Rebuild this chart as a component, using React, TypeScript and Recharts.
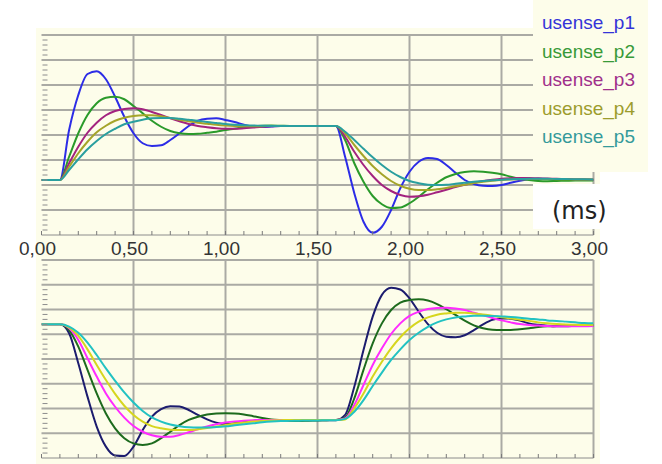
import React from 'react';
import { LineChart, Line, XAxis, YAxis, ReferenceLine, Legend } from 'recharts';

// ---- data -------------------------------------------------------------
const TIME_MS = [
  0, 0.05, 0.1, 0.15, 0.2, 0.25, 0.3, 0.35, 0.4, 0.45, 0.5, 0.55, 0.6, 0.65, 0.7, 0.75,
  0.8, 0.85, 0.9, 0.95, 1, 1.05, 1.1, 1.15, 1.2, 1.25, 1.3, 1.35, 1.4, 1.45, 1.5, 1.55,
  1.6, 1.65, 1.7, 1.75, 1.8, 1.85, 1.9, 1.95, 2, 2.05, 2.1, 2.15, 2.2, 2.25, 2.3, 2.35,
  2.4, 2.45, 2.5, 2.55, 2.6, 2.65, 2.7, 2.75, 2.8, 2.85, 2.9, 2.95, 3,
];

const SERIES_NAMES = ['usense_p1', 'usense_p2', 'usense_p3', 'usense_p4', 'usense_p5'];

// upper panel
const TOP_P1 = [
  2.2, 2.2, 2.2, 4.2, 5.6, 6.44, 6.55, 6.23, 5.53, 4.73, 4.07, 3.67, 3.56, 3.59, 3.8, 4.07,
  4.36, 4.57, 4.65, 4.67, 4.6, 4.52, 4.41, 4.33, 4.32, 4.34, 4.36, 4.36, 4.36, 4.36, 4.36, 4.36,
  4.36, 3.13, 1.67, 0.53, 0.09, 0.33, 1.0, 1.87, 2.53, 2.93, 3.08, 3.04, 2.8, 2.49, 2.2, 2.04,
  1.97, 1.96, 2.0, 2.09, 2.17, 2.23, 2.25, 2.24, 2.22, 2.2, 2.2, 2.2, 2.2,
];
const TOP_P2 = [
  2.2, 2.2, 2.2, 3.13, 4.07, 4.8, 5.27, 5.49, 5.53, 5.43, 5.16, 4.87, 4.57, 4.33, 4.16, 4.07,
  4.04, 4.05, 4.09, 4.13, 4.2, 4.25, 4.31, 4.35, 4.37, 4.38, 4.37, 4.36, 4.36, 4.36, 4.36, 4.36,
  4.36, 3.8, 2.87, 2.13, 1.56, 1.23, 1.08, 1.1, 1.27, 1.53, 1.83, 2.09, 2.31, 2.44, 2.52, 2.55,
  2.53, 2.49, 2.43, 2.33, 2.25, 2.2, 2.16, 2.15, 2.16, 2.17, 2.18, 2.18, 2.18,
];
const TOP_P3 = [
  2.2, 2.2, 2.2, 2.87, 3.53, 4.09, 4.49, 4.79, 4.96, 5.04, 5.07, 5.03, 4.92, 4.8, 4.67, 4.55,
  4.44, 4.36, 4.31, 4.27, 4.25, 4.25, 4.27, 4.3, 4.33, 4.35, 4.36, 4.36, 4.36, 4.36, 4.36, 4.36,
  4.36, 3.93, 3.33, 2.8, 2.36, 2.0, 1.76, 1.6, 1.53, 1.55, 1.61, 1.71, 1.81, 1.92, 2.01, 2.09,
  2.16, 2.21, 2.25, 2.27, 2.28, 2.28, 2.27, 2.26, 2.25, 2.24, 2.23, 2.23, 2.22,
];
const TOP_P4 = [
  2.2, 2.2, 2.2, 2.73, 3.27, 3.73, 4.11, 4.37, 4.57, 4.69, 4.76, 4.79, 4.79, 4.75, 4.68, 4.61,
  4.55, 4.49, 4.45, 4.41, 4.38, 4.36, 4.35, 4.35, 4.35, 4.36, 4.36, 4.36, 4.36, 4.36, 4.36, 4.36,
  4.36, 4.07, 3.6, 3.16, 2.76, 2.43, 2.16, 1.97, 1.85, 1.8, 1.8, 1.83, 1.88, 1.95, 2.01, 2.08,
  2.13, 2.17, 2.2, 2.22, 2.23, 2.24, 2.24, 2.24, 2.23, 2.23, 2.22, 2.22, 2.22,
];
const TOP_P5 = [
  2.2, 2.2, 2.2, 2.6, 3.03, 3.43, 3.76, 4.04, 4.25, 4.43, 4.53, 4.61, 4.67, 4.68, 4.68, 4.65,
  4.61, 4.57, 4.52, 4.48, 4.44, 4.41, 4.39, 4.38, 4.37, 4.36, 4.36, 4.36, 4.36, 4.36, 4.36, 4.36,
  4.36, 4.13, 3.8, 3.45, 3.11, 2.8, 2.53, 2.32, 2.16, 2.07, 2.01, 2.0, 2.01, 2.05, 2.09, 2.13,
  2.16, 2.19, 2.21, 2.23, 2.24, 2.25, 2.25, 2.25, 2.24, 2.24, 2.23, 2.23, 2.22,
];

// lower panel
const BOT_P1 = [
  5.4, 5.4, 5.4, 5.04, 3.83, 2.48, 1.27, 0.46, 0.1, 0.08, 0.46, 1.13, 1.67, 1.97, 2.09, 2.08,
  1.94, 1.74, 1.56, 1.43, 1.37, 1.4, 1.45, 1.5, 1.53, 1.53, 1.53, 1.53, 1.53, 1.53, 1.53, 1.53,
  1.53, 1.74, 2.88, 4.36, 5.71, 6.59, 6.88, 6.81, 6.45, 5.91, 5.41, 5.06, 4.9, 4.88, 4.96, 5.17,
  5.4, 5.58, 5.64, 5.63, 5.55, 5.44, 5.38, 5.34, 5.32, 5.32, 5.34, 5.35, 5.36,
];
const BOT_P2 = [
  5.4, 5.4, 5.4, 5.17, 4.5, 3.56, 2.61, 1.8, 1.2, 0.8, 0.59, 0.53, 0.59, 0.8, 1.06, 1.33,
  1.54, 1.67, 1.76, 1.8, 1.81, 1.8, 1.76, 1.69, 1.62, 1.56, 1.53, 1.51, 1.5, 1.51, 1.52, 1.53,
  1.54, 1.63, 2.41, 3.56, 4.63, 5.44, 5.98, 6.28, 6.38, 6.41, 6.36, 6.22, 6.01, 5.78, 5.55, 5.36,
  5.24, 5.18, 5.17, 5.17, 5.2, 5.24, 5.29, 5.32, 5.33, 5.34, 5.34, 5.35, 5.35,
];
const BOT_P3 = [
  5.4, 5.4, 5.4, 5.24, 4.77, 4.03, 3.29, 2.61, 2.07, 1.63, 1.29, 1.06, 0.92, 0.86, 0.86, 0.93,
  1.04, 1.16, 1.27, 1.36, 1.43, 1.48, 1.51, 1.53, 1.54, 1.54, 1.54, 1.54, 1.54, 1.54, 1.54, 1.54,
  1.54, 1.6, 2.14, 2.95, 3.76, 4.43, 5.01, 5.44, 5.74, 5.91, 6.02, 6.06, 6.07, 6.04, 5.98, 5.87,
  5.77, 5.66, 5.56, 5.48, 5.41, 5.37, 5.35, 5.33, 5.32, 5.32, 5.32, 5.32, 5.33,
];
const BOT_P4 = [
  5.4, 5.4, 5.4, 5.28, 4.93, 4.39, 3.76, 3.15, 2.59, 2.11, 1.74, 1.47, 1.29, 1.2, 1.14, 1.13,
  1.13, 1.16, 1.21, 1.27, 1.33, 1.39, 1.43, 1.47, 1.5, 1.52, 1.53, 1.54, 1.54, 1.54, 1.54, 1.54,
  1.54, 1.56, 2.01, 2.61, 3.29, 3.89, 4.43, 4.88, 5.24, 5.51, 5.68, 5.79, 5.84, 5.87, 5.87, 5.84,
  5.8, 5.75, 5.69, 5.64, 5.59, 5.54, 5.48, 5.44, 5.41, 5.39, 5.38, 5.37, 5.37,
];
const BOT_P5 = [
  5.4, 5.4, 5.4, 5.31, 5.06, 4.66, 4.16, 3.62, 3.12, 2.65, 2.24, 1.9, 1.64, 1.47, 1.35, 1.28,
  1.24, 1.23, 1.23, 1.25, 1.28, 1.32, 1.36, 1.4, 1.44, 1.47, 1.49, 1.5, 1.51, 1.52, 1.52, 1.53,
  1.53, 1.58, 1.87, 2.34, 2.91, 3.45, 3.96, 4.39, 4.77, 5.06, 5.3, 5.48, 5.6, 5.68, 5.72, 5.75,
  5.75, 5.74, 5.72, 5.7, 5.67, 5.63, 5.6, 5.56, 5.54, 5.51, 5.48, 5.45, 5.44,
];

// ticks
const X_LABEL_TICKS = [0, 0.5, 1, 1.5, 2, 2.5, 3];
const X_MINOR_TICKS = [
  0, 0.1, 0.2, 0.3, 0.4, 0.5, 0.6, 0.7, 0.8, 0.9, 1, 1.1, 1.2, 1.3, 1.4, 1.5,
  1.6, 1.7, 1.8, 1.9, 2, 2.1, 2.2, 2.3, 2.4, 2.5, 2.6, 2.7, 2.8, 2.9, 3,
];
const X_GRID = [0.5, 1, 1.5, 2, 2.5, 3];
const Y_GRID = [1, 2, 3, 4, 5, 6, 7, 8];
const Y_MINOR_TICKS = Array.from({ length: 41 }, (_, i) => Math.round(i * 2) / 10);

// ---- styles -----------------------------------------------------------
const TOP_COLORS = ['#2c2ce6', '#2a9a2a', '#a3237f', '#a5a52a', '#2a9f9f'];
const LEGEND_COLORS = ['#3434d8', '#389a38', '#a0308a', '#9c9c2c', '#349a9a'];
const BOT_COLORS = ['#1c1c6e', '#1d6b1d', '#ff2bff', '#d6d61e', '#22c2c2'];
const CREAM = '#fdfdea';
const GRID = '#aaaaa4';
const FONT = '"Liberation Sans", Arial, sans-serif';
const Y_AXIS_W = 10;

function buildRows(series: number[][]) {
  return TIME_MS.map((t, i) => {
    const row: Record<string, number> = { t };
    series.forEach((s, k) => {
      row['p' + (k + 1)] = s[i];
    });
    return row;
  });
}

const topRows = buildRows([TOP_P1, TOP_P2, TOP_P3, TOP_P4, TOP_P5]);
const botRows = buildRows([BOT_P1, BOT_P2, BOT_P3, BOT_P4, BOT_P5]);

const isMajor = (v: number) => X_LABEL_TICKS.some((m) => Math.abs(m - v) < 1e-6);

const makeXTick = (labels: boolean) => (props: any) => {
  const { x, y, payload } = props;
  const v: number = payload.value;
  return (
    <g>
      <line x1={x} x2={x} y1={y} y2={y - 4} stroke="#7a7a7a" strokeWidth={1} />
      {labels && isMajor(v) && (
        <text
          x={x - 4}
          y={y + 20}
          textAnchor="middle"
          fontSize={19}
          fill="#333"
          fontFamily={FONT}
        >
          {v.toFixed(2).replace('.', ',')}
        </text>
      )}
    </g>
  );
};

const YTick = (props: any) => {
  const { x, y, payload } = props;
  const v: number = payload.value;
  if (Math.abs(v - Math.round(v)) < 1e-6) return <g />;
  return <line x1={x + 1} x2={x + 6} y1={y} y2={y} stroke="#8c8c8c" strokeWidth={1} />;
};

const LegendBox = (props: any) => {
  const payload = props.payload || [];
  return (
    <div
      style={{
        width: 115,
        height: 172,
        background: CREAM,
        boxSizing: 'border-box',
        paddingTop: 9,
        paddingLeft: 9,
        fontFamily: FONT,
        fontSize: 19,
        lineHeight: '28.6px',
        textAlign: 'left',
      }}
    >
      {payload.map((p: any, i: number) => (
        <div key={p.value} style={{ color: LEGEND_COLORS[i] || p.color, whiteSpace: 'nowrap' }}>
          {p.value}
        </div>
      ))}
    </div>
  );
};

function Panel(props: {
  rows: Record<string, number>[];
  colors: string[];
  height: number;
  margin: { top: number; right: number; bottom: number; left: number };
  axisHeight: number;
  labels: boolean;
  legend: boolean;
}) {
  const { rows, colors, height, margin, axisHeight, labels, legend } = props;
  return (
    <LineChart width={662} height={height} data={rows} margin={margin}>
      <XAxis
        dataKey="t"
        type="number"
        domain={[0, 3]}
        ticks={X_MINOR_TICKS}
        interval={0}
        tickSize={0}
        tickMargin={0}
        tickLine={false}
        axisLine={{ stroke: '#8c8c8c', strokeWidth: 1 }}
        height={axisHeight}
        tick={makeXTick(labels)}
        allowDataOverflow
      />
      <YAxis
        type="number"
        domain={[0, 8]}
        ticks={Y_MINOR_TICKS}
        interval={0}
        width={Y_AXIS_W}
        tickSize={0}
        tickMargin={0}
        tickLine={false}
        axisLine={false}
        tick={YTick}
        allowDataOverflow
      />
      {Y_GRID.map((v) => (
        <ReferenceLine key={'y' + v} y={v} stroke={GRID} strokeWidth={2} />
      ))}
      {X_GRID.map((v) => (
        <ReferenceLine key={'x' + v} x={v} stroke={GRID} strokeWidth={2} />
      ))}
      {SERIES_NAMES.map((name, k) => (
        <Line
          key={name}
          dataKey={'p' + (k + 1)}
          name={name}
          type="monotone"
          stroke={colors[k]}
          strokeWidth={2}
          dot={false}
          activeDot={false}
          isAnimationActive={false}
        />
      ))}
      {legend && (
        <Legend
          layout="vertical"
          align="center"
          verticalAlign="middle"
          content={LegendBox}
          wrapperStyle={{ left: 533, top: 0, width: 115, height: 172 }}
        />
      )}
    </LineChart>
  );
}

export default function App() {
  return (
    <div
      style={{
        position: 'absolute',
        left: 0,
        top: 0,
        width: 662,
        height: 464,
        background: '#ffffff',
        overflow: 'hidden',
        fontFamily: FONT,
      }}
    >
      <div
        style={{ position: 'absolute', left: 36, top: 28, width: 564, height: 436, background: CREAM }}
      />
      <div style={{ position: 'absolute', left: 0, top: 0 }}>
        <Panel
          rows={topRows}
          colors={TOP_COLORS}
          height={262}
          margin={{ top: 35, right: 68.5, bottom: 7, left: 41.5 - Y_AXIS_W }}
          axisHeight={20}
          labels={true}
          legend={true}
        />
      </div>
      <div style={{ position: 'absolute', left: 0, top: 250 }}>
        <Panel
          rows={botRows}
          colors={BOT_COLORS}
          height={214}
          margin={{ top: 10, right: 68.5, bottom: 0, left: 41.5 - Y_AXIS_W }}
          axisHeight={6}
          labels={false}
          legend={false}
        />
      </div>
      <div
        style={{
          position: 'absolute',
          left: 533,
          top: 184,
          width: 129,
          height: 45,
          background: '#ffffff',
        }}
      />
      <div
        style={{
          position: 'absolute',
          left: 552,
          top: 196,
          fontFamily: '"DejaVu Sans", sans-serif',
          fontSize: 24,
          lineHeight: '30px',
          color: '#222',
        }}
      >
        (ms)
      </div>
    </div>
  );
}
